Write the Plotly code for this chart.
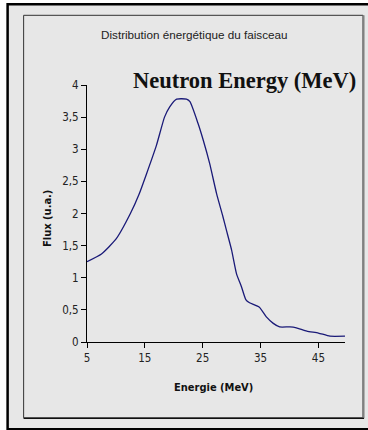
import plotly.graph_objects as go

energy = [5, 7.5, 10, 12.5, 14, 15.3, 17, 18.4, 19.3, 20.5, 22.2, 22.8, 24.2, 25.1, 26.2,
          27.4, 28.5, 29.1, 30.0, 30.85, 31.7, 32.45, 33.1, 34.8, 36.0, 37.2, 38.3, 40.1, 41.2,
          43, 45, 47, 49.6]
flux = [1.25, 1.37, 1.6, 2.0, 2.3, 2.62, 3.06, 3.5, 3.66, 3.78, 3.78, 3.74, 3.40, 3.14, 2.78,
        2.31, 1.95, 1.74, 1.43, 1.06, 0.86, 0.66, 0.61, 0.54, 0.39, 0.29, 0.235, 0.235, 0.22,
        0.17, 0.14, 0.09, 0.09]

x_tickvals = [5, 15, 25, 35, 45]
x_ticktext = ["5", "15", "25", "35", "45"]
y_tickvals = [0, 0.5, 1, 1.5, 2, 2.5, 3, 3.5, 4]
y_ticktext = ["0", "0,5", "1", "1,5", "2", "2,5", "3", "3,5", "4"]

W, H = 368, 430
L, R, T, B = 87.3, 345.0, 84.7, 341.7
pw, ph = R - L, B - T

def px(x):
    return (x - L) / pw

def py(y):
    return (B - y) / ph

narrow = "DejaVu Sans Condensed, Liberation Sans Narrow, Arial Narrow, Arial"
bg = "#e7e7e7"

fig = go.Figure()
fig.add_trace(go.Scatter(x=energy, y=flux, mode="lines",
                         line=dict(color="#1a1a78", width=1.3, shape="spline", smoothing=0.5),
                         hoverinfo="skip"))

shapes = [
    dict(type="rect", xref="paper", yref="paper", x0=px(8), x1=px(372), y0=py(4), y1=py(429),
         fillcolor=bg, line=dict(color="black", width=2.5), layer="below"),
    dict(type="rect", xref="paper", yref="paper", x0=px(24), x1=px(363), y0=py(15), y1=py(417.5),
         fillcolor=bg, line=dict(color="#333333", width=1), layer="below"),
    dict(type="line", xref="paper", yref="paper", x0=px(363.5), x1=px(363.5), y0=py(15), y1=py(418),
         line=dict(color="#808080", width=2), layer="below"),
    dict(type="line", xref="paper", yref="paper", x0=px(24), x1=px(364), y0=py(418), y1=py(418),
         line=dict(color="#111111", width=1.2), layer="below"),
]

annotations = [
    dict(text="Distribution énergétique du faisceau", x=px(194), y=py(34), xref="paper", yref="paper",
         showarrow=False, xanchor="center", yanchor="middle",
         font=dict(family="Liberation Sans, Arial", size=11.7, color="#222222")),
    dict(text="<b>Neutron Energy (MeV)</b>", x=px(245), y=py(80), xref="paper", yref="paper",
         showarrow=False, xanchor="center", yanchor="middle",
         font=dict(family="Liberation Serif, Times New Roman", size=22.5, color="#111111")),
    dict(text="<b>Flux (u.a.)</b>", x=px(48), y=py(218), xref="paper", yref="paper",
         showarrow=False, xanchor="center", yanchor="middle", textangle=-90,
         font=dict(family=narrow, size=11, color="#111111")),
    dict(text="<b>Energie (MeV)</b>", x=px(214), y=py(387), xref="paper", yref="paper",
         showarrow=False, xanchor="center", yanchor="middle",
         font=dict(family=narrow, size=11, color="#111111")),
]

fig.update_layout(
    width=W, height=H,
    margin=dict(l=L, r=W - R, t=T, b=H - B, pad=0),
    paper_bgcolor="white", plot_bgcolor="rgba(0,0,0,0)",
    showlegend=False,
    shapes=shapes, annotations=annotations,
    xaxis=dict(range=[5, 49.6], tickvals=x_tickvals, ticktext=x_ticktext,
               showline=True, linecolor="black", linewidth=1, ticks="outside", ticklen=5,
               tickcolor="black", showgrid=False, zeroline=False,
               tickfont=dict(family=narrow, size=11.5, color="#222222")),
    yaxis=dict(range=[0, 4], tickvals=y_tickvals, ticktext=y_ticktext,
               showline=True, linecolor="black", linewidth=1, ticks="outside", ticklen=5,
               tickcolor="black", showgrid=False, zeroline=False,
               tickfont=dict(family=narrow, size=11.5, color="#222222")),
)

fig.write_html("out.html")
